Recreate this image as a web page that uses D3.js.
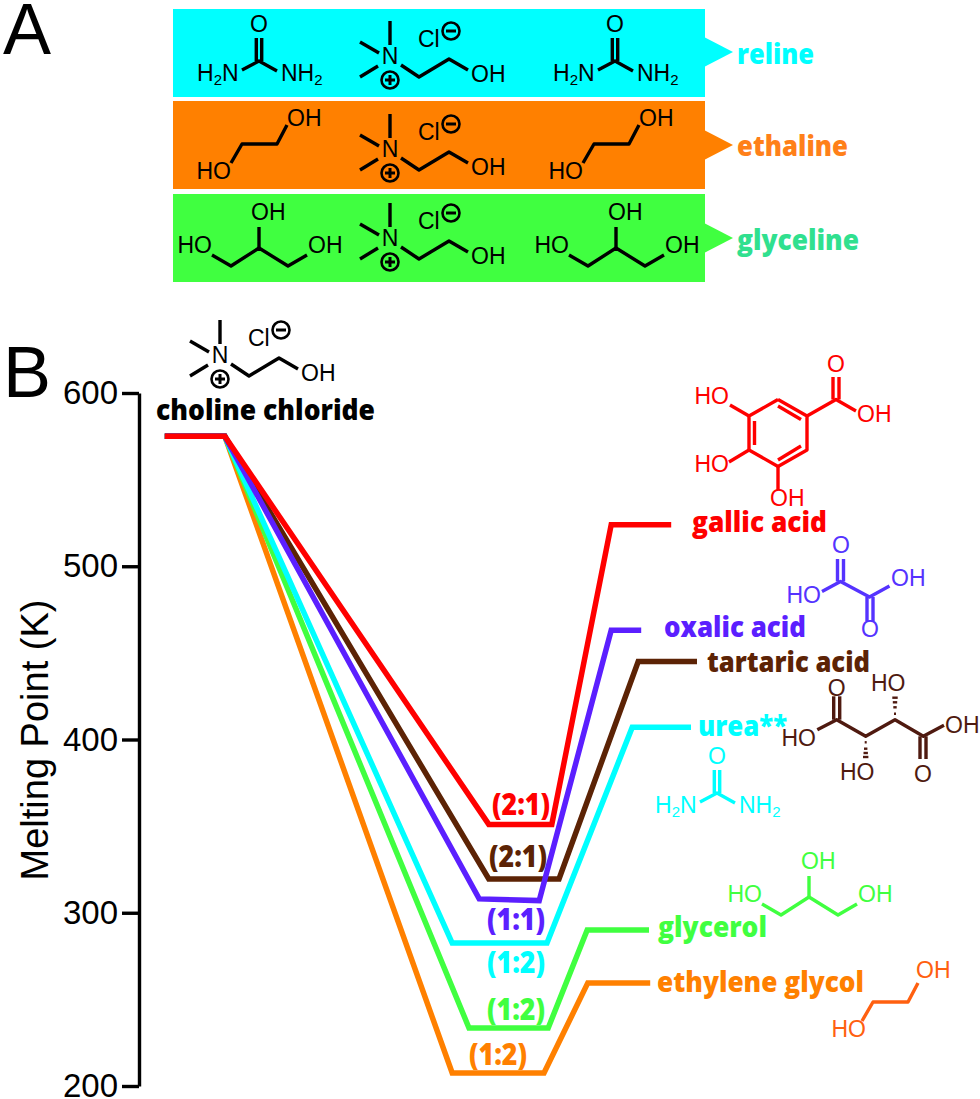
<!DOCTYPE html>
<html>
<head>
<meta charset="utf-8">
<script src="https://d3js.org/d3.v7.min.js"></script>
<style>
  html, body { margin: 0; padding: 0; background: #fff; }
  text { font-family: "Liberation Sans", Arial, sans-serif; }
  .bold-label { font-family: "Open Sans", sans-serif; font-weight: 800; }
</style>
</head>
<body>
<div id="chart"></div>
<script>
// melting points (K)
var compounds = ["ethylene glycol", "glycerol", "urea**", "tartaric acid", "oxalic acid", "gallic acid"];
var ratios = ["(1:2)", "(1:2)", "(1:2)", "(2:1)", "(1:1)", "(2:1)"];
var cholineMelt = 575;
var eutecticLeft = [207.5, 233.5, 282.5, 319.5, 308, 351];
var eutecticRight = [207.5, 233.5, 282.5, 319.5, 307, 351];
var pureMelt = [259.5, 290, 407, 445, 463, 524];

// horizontal composition coordinate of each kink (arbitrary units, 0-100)
var cholineX = [4.3, 14.3];
var eutecticLeftX = [52.2, 55, 52.2, 58.3, 56.7, 58.3];
var eutecticRightX = [67.5, 68.2, 68, 70, 66.7, 68.8];
var riseEndX = [74.8, 74.7, 82.2, 83.2, 78.7, 78.7];
var pureEndX = [85.2, 85, 92, 93, 83.7, 88.7];

var yTicks = [200, 300, 400, 500, 600];
var panelNames = ["reline", "ethaline", "glyceline"];

var compoundColors = ["#ff8000", "#40ff40", "#00ffff", "#5c2305", "#5b1fff", "#ff0000"];
var panelColors = ["#00ffff", "#ff8000", "#40ff40"];
var panelLabelColors = ["#00ffff", "#ff8019", "#30e08f"];

var svgWidth = 980;
var svgHeight = 1099;

var svg = d3.select("#chart")
  .append("svg")
  .attr("width", svgWidth)
  .attr("height", svgHeight)
  .style("display", "block");

var xScale = d3.scaleLinear().domain([0, 100]).range([139, 739]);
var yScale = d3.scaleLinear().domain([200, 600]).range([1086, 393]);

var pathLine = d3.line();

// ---- molecule sketches, bond polylines and atom labels relative to an anchor atom ----
function drawMolecule(mol, cx, cy, color) {
  var g = svg.append("g").attr("transform", "translate(" + cx + "," + cy + ")");
  mol.bonds.forEach(function(b) {
    g.append("path")
      .attr("d", pathLine(b))
      .attr("fill", "none")
      .attr("stroke", color)
      .attr("stroke-width", 3.4)
      .attr("stroke-linejoin", "round");
  });
  mol.atoms.forEach(function(a) {
    var t = g.append("text")
      .attr("x", a[1])
      .attr("y", a[2])
      .attr("text-anchor", a[3] || "start")
      .attr("fill", color)
      .style("font-size", "23px");
    // digit after a letter means subscript
    a[0].split(/(\d)/).forEach(function(part) {
      if (part === "") return;
      if (/\d/.test(part)) {
        t.append("tspan").attr("dy", 4).style("font-size", "15px").text(part);
      } else {
        var s = t.append("tspan").text(part);
        if (t.selectAll("tspan").size() > 1) s.attr("dy", -4);
      }
    });
  });
  (mol.hashes || []).forEach(function(h) {
    g.append("line")
      .attr("x1", h[0] - h[2]).attr("x2", h[0] + h[2])
      .attr("y1", h[1]).attr("y2", h[1])
      .attr("stroke", color)
      .attr("stroke-width", 2.4);
  });
  return g;
}

var choline = {
  bonds: [
    [[0, -35], [0, -11]],
    [[-30, -14], [-11, -3]],
    [[-30, 21], [-12, 10]],
    [[11, 9], [29, 21], [59, 3], [78, 14]]
  ],
  atoms: [["N", 0, 8, "middle"], ["OH", 81, 26], ["Cl", 28, -9]]
};

var urea = {
  bonds: [
    [[-2.7, -23], [-2.7, 0]],
    [[2.7, -23], [2.7, 0]],
    [[-17, 9], [0, 0], [18, 10]]
  ],
  atoms: [["O", 0, -29, "middle"], ["H2N", -62, 20], ["NH2", 22, 20]]
};

var glycol = {
  bonds: [[[-28, 19], [-17, 0], [18, 0], [28, -19]]],
  atoms: [["HO", -28, 35, "end"], ["OH", 28, -18]]
};

var glycolChart = {
  bonds: glycol.bonds,
  atoms: [["HO", -24, 35, "end"], ["OH", 26, -24]]
};

var glycerin = {
  bonds: [
    [[-47, 7], [-28, 18], [0, 0], [29, 18], [48, 7]],
    [[0, 0], [0, -21]]
  ],
  atoms: [["HO", -47, 5, "end"], ["OH", -8, -28], ["OH", 49, 5]]
};

var gallic = {
  bonds: [
    [[0, -33.5], [29, -17], [29, 17], [0, 33.5], [-29, 17], [-29, -17], [0, -33.5]],
    [[-23.5, -12], [-23.5, 12]],
    [[0, -27], [23, -13.5]],
    [[23, 13], [0, 27]],
    [[29, -17], [58, -33.5], [78, -22]],
    [[55, -33.5], [55, -56]],
    [[61, -33.5], [61, -56]],
    [[-29, -17], [-48, -28]],
    [[-29, 17], [-49, 29]],
    [[0, 33.5], [0, 57]]
  ],
  atoms: [["O", 58, -61, "middle"], ["OH", 79, -11], ["HO", -49, -29, "end"], ["HO", -49, 39, "end"], ["OH", -8, 73]]
};

var oxalic = {
  bonds: [
    [[-33, 2.5], [-14.5, -7.5], [14.5, 8], [34.5, -3]],
    [[-17.5, -7.5], [-17.5, -30]],
    [[-11.5, -7.5], [-11.5, -30]],
    [[12, 8], [12, 32]],
    [[18, 8], [18, 32]]
  ],
  atoms: [["O", -14, -36, "middle"], ["O", 15, 48, "middle"], ["HO", -34, 14, "end"], ["OH", 36, -3]]
};

var tartaric = {
  bonds: [
    [[-62.7, 1.7], [-43.3, -8.3], [-14.3, 8.3], [15, -8.3], [43.3, 8.3], [64, -2.7]],
    [[-46.3, -8.3], [-46.3, -31.7]],
    [[-40.3, -8.3], [-40.3, -31.7]],
    [[40, 8.3], [40, 31]],
    [[46, 8.3], [46, 31]]
  ],
  atoms: [["O", -43.3, -32, "middle"], ["O", 43, 54, "middle"], ["HO", -64, 18, "end"], ["OH", 65, 5], ["HO", -9, -37], ["HO", -40, 52]],
  hashes: [
    [15, -14.3, 1], [15, -20.7, 1.7], [15, -25.7, 2.2], [15, -30.3, 2.7],
    [-14.3, 14.3, 1], [-14.3, 20.7, 1.7], [-14.3, 25, 2.2], [-14.3, 29, 2.7]
  ]
};

function drawCharge(g, dx, dy, plus) {
  g.append("circle")
    .attr("cx", dx).attr("cy", dy).attr("r", 8.5)
    .attr("fill", "none")
    .attr("stroke", "#000")
    .attr("stroke-width", 2.6);
  var bars = [[[dx - 5, dy], [dx + 5, dy]]];
  if (plus) bars.push([[dx, dy - 5], [dx, dy + 5]]);
  bars.forEach(function(b) {
    g.append("path").attr("d", pathLine(b)).attr("stroke", "#000").attr("stroke-width", 3);
  });
}

function drawCholine(cx, cy) {
  var g = drawMolecule(choline, cx, cy, "#000");
  drawCharge(g, 61, -25, false);
  drawCharge(g, 0, 24, true);
}

// ---- panel A ----
var panelTops = [9, 101, 194];
var panelArrowY = [52, 145, 238];
var panelLabelY = [64, 156, 250];
var panelLabelW = [77, 111, 122];
var panelLeft = 173;
var panelRight = 705;

panelNames.forEach(function(name, i) {
  svg.append("rect")
    .attr("x", panelLeft)
    .attr("y", panelTops[i])
    .attr("width", panelRight - panelLeft)
    .attr("height", 88)
    .attr("fill", panelColors[i]);

  svg.append("path")
    .attr("d", pathLine([[panelRight, panelArrowY[i] - 14.5], [733, panelArrowY[i]], [panelRight, panelArrowY[i] + 14.5]]) + "Z")
    .attr("fill", panelColors[i]);

  svg.append("text")
    .attr("class", "bold-label")
    .attr("x", 737)
    .attr("y", panelLabelY[i])
    .attr("textLength", panelLabelW[i])
    .attr("lengthAdjust", "spacingAndGlyphs")
    .attr("fill", panelLabelColors[i])
    .style("font-size", "29px")
    .text(name);
});

drawMolecule(urea, 259, 61, "#000");
drawMolecule(urea, 615, 61, "#000");
drawMolecule(glycol, 259, 144, "#000");
drawMolecule(glycol, 611, 144, "#000");
drawMolecule(glycerin, 259, 248, "#000");
drawMolecule(glycerin, 616, 248, "#000");
drawCholine(390, 56);
drawCholine(390, 149);
drawCholine(390, 238);

svg.append("text")
  .attr("x", 3).attr("y", 54)
  .style("font-size", "72px")
  .text("A");

svg.append("text")
  .attr("x", 3).attr("y", 397)
  .style("font-size", "72px")
  .text("B");

// ---- panel B axis ----
var yAxis = d3.axisLeft(yScale)
  .tickValues(yTicks)
  .tickSize(17)
  .tickSizeOuter(0)
  .tickPadding(4);

var axisG = svg.append("g")
  .attr("transform", "translate(139,0)")
  .call(yAxis);

axisG.select(".domain").attr("stroke", "#000").attr("stroke-width", 3.4);
axisG.selectAll(".tick line").attr("stroke", "#000").attr("stroke-width", 3.4);
axisG.selectAll(".tick text")
  .attr("fill", "#000")
  .style("font-family", "'Liberation Sans', Arial, sans-serif")
  .style("font-size", "33px");

svg.append("text")
  .attr("transform", "translate(48,740) rotate(-90)")
  .attr("text-anchor", "middle")
  .style("font-size", "38px")
  .text("Melting Point (K)");

// ---- series ----
compounds.forEach(function(name, i) {
  var xs = cholineX.concat([eutecticLeftX[i], eutecticRightX[i], riseEndX[i], pureEndX[i]]);
  var ys = [cholineMelt, cholineMelt, eutecticLeft[i], eutecticRight[i], pureMelt[i], pureMelt[i]];
  var line = d3.line()
    .x(function(d) { return xScale(d); })
    .y(function(d, j) { return yScale(ys[j]); });

  svg.append("path")
    .attr("class", "series")
    .attr("d", line(xs))
    .attr("fill", "none")
    .attr("stroke", compoundColors[i])
    .attr("stroke-width", 5.5)
    .attr("stroke-linejoin", "miter");
});

// ---- labels ----
function boldLabel(str, x, y, w, color, anchor, size) {
  svg.append("text")
    .attr("class", "bold-label")
    .attr("x", x)
    .attr("y", y)
    .attr("text-anchor", anchor || "start")
    .attr("textLength", w)
    .attr("lengthAdjust", "spacingAndGlyphs")
    .attr("fill", color)
    .style("font-size", (size || 29) + "px")
    .text(str);
}

var compoundLabelX = [657, 658, 698, 707, 664, 692];
var compoundLabelY = [992, 937, 736, 672, 637, 532];
var compoundLabelW = [207, 109, 89, 163, 142, 135];
var ratioX = [498, 516, 516, 518, 516, 521];
var ratioY = [1065, 1020, 973, 867, 930, 815];

compounds.forEach(function(name, i) {
  boldLabel(name, compoundLabelX[i], compoundLabelY[i], compoundLabelW[i], compoundColors[i]);
  boldLabel(ratios[i], ratioX[i], ratioY[i], 58, compoundColors[i], "middle", 30);
});

boldLabel("choline chloride", 156, 420, 219, "#000");

drawCholine(220, 355);
drawMolecule(gallic, 778, 433, "#ff0000");
drawMolecule(oxalic, 855, 589, "#5533ff");
drawMolecule(tartaric, 880, 728, "#4f1a10");
drawMolecule(urea, 717, 793, "#00ffff");
drawMolecule(glycerin, 809, 897, "#40ff40");
drawMolecule(glycolChart, 890, 1002, "#ff6010");
</script>
</body>
</html>
